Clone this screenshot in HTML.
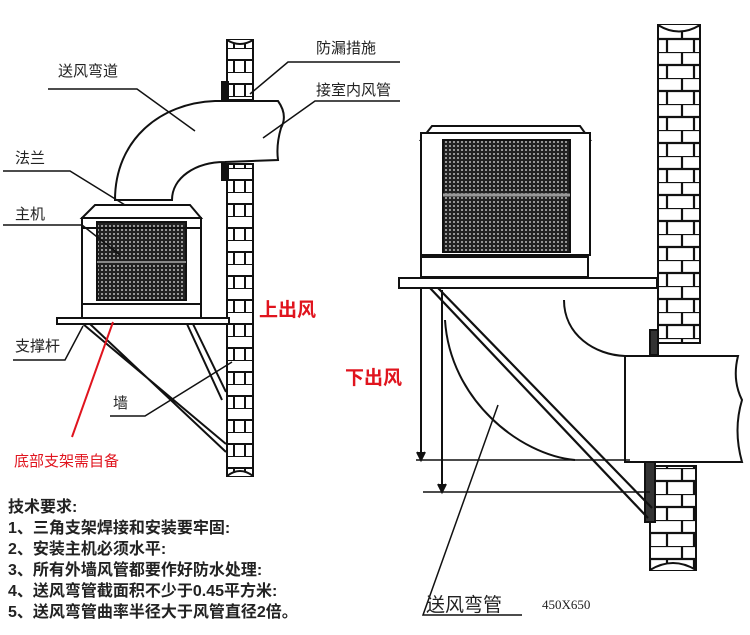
<!DOCTYPE html>
<html><head><meta charset="utf-8"><style>
html,body{margin:0;padding:0;background:#fff;width:750px;height:635px;overflow:hidden}
svg{display:block}
.t{font-family:"Liberation Sans","Noto Sans CJK SC",sans-serif;fill:#222}
</style></head><body>
<svg width="750" height="635" viewBox="0 0 750 635" xmlns="http://www.w3.org/2000/svg">
<defs>
<pattern id="brick" x="0" y="0" width="30" height="24" patternUnits="userSpaceOnUse">
<rect width="30" height="24" fill="#fff"/>
<path d="M0 0H30M0 12H30M15 0V12M5 12V24M24 12V24" stroke="#111" stroke-width="2" fill="none"/>
</pattern>
<pattern id="brick2" x="0" y="0" width="44" height="26" patternUnits="userSpaceOnUse">
<rect width="44" height="26" fill="#fff"/>
<path d="M0 0H44M0 13H44M22 0V13M7 13V26M34 13V26" stroke="#111" stroke-width="2.2" fill="none"/>
</pattern>
<pattern id="mesh" width="4" height="4" patternUnits="userSpaceOnUse">
<rect width="4" height="4" fill="#222"/><circle cx="2" cy="2" r="1" fill="#bbb"/>
</pattern>
</defs>
<g fill="none" stroke="#111" stroke-width="2">
<!-- LEFT WALL -->
<rect x="227" y="40" width="26" height="60" fill="url(#brick)"/>
<rect x="227" y="164" width="26" height="312" fill="url(#brick)"/>
<path d="M227 40 Q240 48 253 40" fill="#fff"/>
<path d="M227 476 Q240 466 253 476" fill="#fff"/>
<rect x="222" y="82" width="6" height="18" fill="#111"/>
<rect x="222" y="164" width="6" height="16" fill="#111"/>
<!-- elbow duct -->
<path d="M115 200 C115 140 160 103 215 101 L278 101 Q288 115 281 128 Q276 145 278 160 L225 162 C195 162 172 178 172 200 Z" fill="#fff"/>
<!-- left unit -->
<path d="M82 218 L95 205 L190 205 L201 218 Z" fill="#fff"/>
<rect x="82" y="218" width="119" height="86" fill="#fff"/>
<rect x="97" y="222" width="89" height="78" fill="url(#mesh)"/>
<line x1="97" y1="262" x2="186" y2="262" stroke="#888"/>
<line x1="82" y1="228" x2="201" y2="228"/>
<rect x="82" y="304" width="119" height="14" fill="#fff"/>
<rect x="57" y="318" width="172" height="6" fill="#fff"/>
<!-- supports -->
<path d="M83 324 L226 444 M90 324 L226 452"/>
<path d="M187 324 L222 400 M193 324 L226 392"/>
<!-- left leaders -->
<path d="M48 89 H137 L195 131" stroke-width="1.5"/>
<path d="M400 62 H288 L250 94" stroke-width="1.5"/>
<path d="M400 101 H315 L263 138" stroke-width="1.5"/>
<path d="M3 171 H70 L125 205" stroke-width="1.5"/>
<path d="M3 225 H82 L120 255" stroke-width="1.5"/>
<path d="M13 360 H65 L83 326" stroke-width="1.5"/>
<path d="M110 416 H145 L232 362" stroke-width="1.5"/>
<path d="M72 437 L113 322" stroke="#e0141e" stroke-width="2"/>
<!-- RIGHT WALL -->
<rect x="658" y="25" width="42" height="318" fill="url(#brick2)"/>
<path d="M658 25 Q679 38 700 25" fill="#fff"/>
<rect x="650" y="466" width="46" height="104" fill="url(#brick2)"/>
<path d="M650 570 Q673 556 696 570" fill="#fff"/>
<rect x="650" y="330" width="8" height="25" fill="#333"/>
<rect x="645" y="462" width="10" height="60" fill="#333"/>
<!-- right unit -->
<path d="M421 140 L432 126 L580 126 L590 140 Z" fill="#fff"/>
<rect x="421" y="133" width="169" height="122" fill="#fff"/>
<rect x="443" y="140" width="127" height="112" fill="url(#mesh)"/>
<line x1="443" y1="195" x2="570" y2="195" stroke="#999" stroke-width="3"/>
<rect x="421" y="257" width="167" height="20" fill="#fff"/>
<rect x="399" y="278" width="258" height="10" fill="#fff"/>
<!-- right duct -->
<path d="M564 300 C564 335 595 355 625 356" />
<path d="M445 320 C450 400 520 455 575 460"/>
<path d="M625 356 H738 Q732 380 742 400 Q733 430 742 462 H625 Z" fill="#fff"/>
<!-- dimensions -->
<path d="M421 288 V458 M442 290 V490"/>
<path d="M416 460 H630 M423 492 H650" stroke-width="1.5"/>
<path d="M417 452 L421 460 L425 452 M438 484 L442 492 L446 484" fill="#111"/>
<!-- right diagonal -->
<path d="M430 288 L648 518 M438 288 L652 508" stroke-width="2.2"/>
<!-- right leader -->
<path d="M522 615 H423 L498 405" stroke-width="1.5"/>
</g>
<!-- labels -->
<g class="t" font-size="15">
<text x="58" y="76">送风弯道</text>
<text x="316" y="53">防漏措施</text>
<text x="316" y="95">接室内风管</text>
<text x="15" y="163">法兰</text>
<text x="15" y="219">主机</text>
<text x="15" y="351">支撑杆</text>
<text x="113" y="408">墙</text>
</g>
<text x="14" y="466" font-family="Liberation Sans,'Noto Sans CJK SC',sans-serif" font-size="15" fill="#e0141e">底部支架需自备</text>
<text x="259" y="316" font-family="Liberation Sans,'Noto Sans CJK SC',sans-serif" font-size="19" font-weight="bold" fill="#e0141e">上出风</text>
<text x="345" y="384" font-family="Liberation Sans,'Noto Sans CJK SC',sans-serif" font-size="19" font-weight="bold" fill="#e0141e">下出风</text>
<g class="t" font-size="16" font-weight="bold" fill="#333">
<text x="8" y="512">技术要求:</text>
<text x="8" y="533">1、三角支架焊接和安装要牢固:</text>
<text x="8" y="554">2、安装主机必须水平:</text>
<text x="8" y="575">3、所有外墙风管都要作好防水处理:</text>
<text x="8" y="596">4、送风弯管截面积不少于0.45平方米:</text>
<text x="8" y="617">5、送风弯管曲率半径大于风管直径2倍。</text>
</g>
<text x="426" y="611" class="t" font-size="19">送风弯管</text>
<text x="542" y="609" font-family="Liberation Serif,serif" font-size="13" fill="#222">450X650</text>
</svg>
</body></html>
